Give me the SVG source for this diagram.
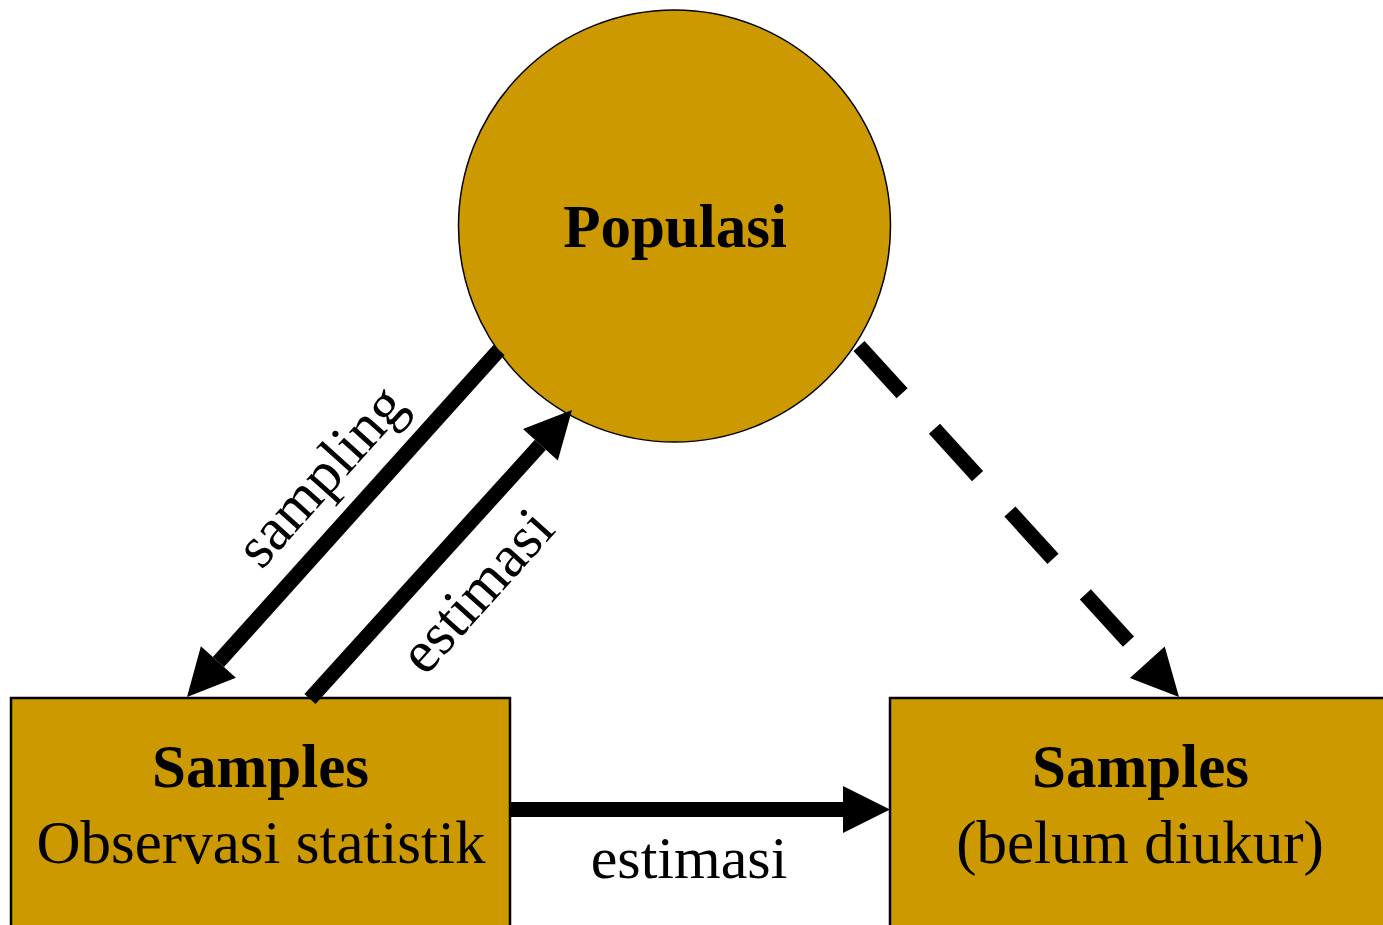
<svg xmlns="http://www.w3.org/2000/svg" width="1383" height="925" viewBox="0 0 1383 925">
  <style>
    .node { fill: #CC9900; stroke: #000000; }
    .title { font-family: "Liberation Serif", "Times New Roman", serif; font-weight: bold; font-size: 61px; fill: #000000; text-anchor: middle; }
    .body { font-family: "Liberation Serif", "Times New Roman", serif; font-size: 61px; fill: #000000; text-anchor: middle; }
    .label { font-family: "Liberation Serif", "Times New Roman", serif; font-size: 60px; fill: #000000; text-anchor: middle; }
    .wire { stroke: #000000; stroke-width: 15; fill: none; stroke-linecap: butt; }
    .head { fill: #000000; stroke: none; }
  </style>
  <rect width="1383" height="925" fill="#FFFFFF"/>

  <g id="populasi">
    <circle class="node" cx="674.5" cy="226" r="216" stroke-width="1.5"/>
    <text class="title" x="675" y="247" font-size="63">Populasi</text>
  </g>

  <g id="samples-observed">
    <rect class="node" x="11" y="698" width="499" height="240" stroke-width="2.5"/>
    <text class="title" x="260.5" y="787">Samples</text>
    <text class="body" x="261" y="863">Observasi statistik</text>
  </g>

  <g id="samples-unmeasured">
    <rect class="node" x="890" y="698" width="500" height="240" stroke-width="2.5"/>
    <text class="title" x="1140.5" y="787">Samples</text>
    <text class="body" x="1140" y="863">(belum diukur)</text>
  </g>

  <g id="connectors">
    <!-- sampling: population to observed samples -->
    <line class="wire" x1="499" y1="350" x2="218.4" y2="662"/>
    <polygon class="head" points="187,697 235.9,677.7 200.9,646.3"/>
    <text class="label" transform="translate(335,489) rotate(-48)">sampling</text>

    <!-- estimasi: observed samples back to population -->
    <line class="wire" x1="310" y1="699" x2="540.4" y2="444.8"/>
    <polygon class="head" points="572,410 523,429 557.8,460.6"/>
    <text class="label" transform="translate(491,604) rotate(-48)">estimasi</text>

    <!-- population to unmeasured samples (dashed) -->
    <line class="wire" x1="859" y1="346" x2="1147.3" y2="662.3" stroke-dasharray="64 48"/>
    <polygon class="head" points="1179,697 1164.7,646.5 1129.9,678.1"/>

    <!-- estimasi: observed to unmeasured samples -->
    <line class="wire" x1="509" y1="809.5" x2="843" y2="809.5"/>
    <polygon class="head" points="843,786 890,809.5 843,833"/>
    <text class="label" x="689" y="878">estimasi</text>
  </g>
</svg>
